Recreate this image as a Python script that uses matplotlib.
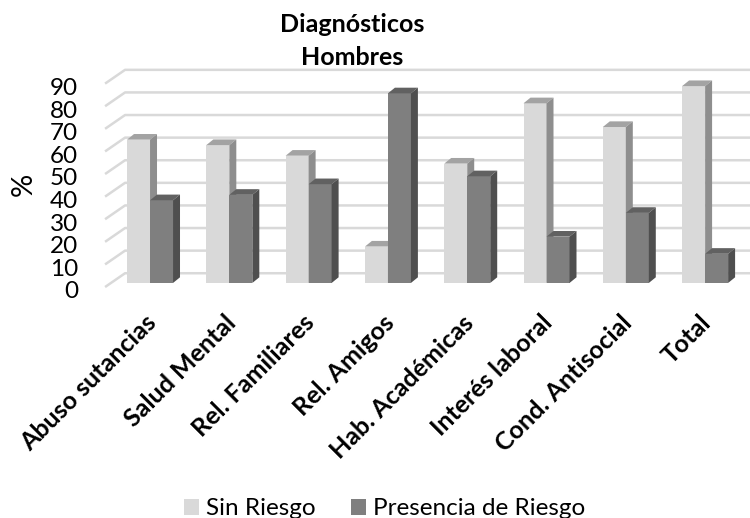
import matplotlib
matplotlib.use("Agg")
import matplotlib.pyplot as plt
from matplotlib.patches import Polygon

plt.rcParams['font.family'] = ['Lato', 'DejaVu Sans']

# ---- data -------------------------------------------------------------
categories = ["Abuso sutancias", "Salud Mental", "Rel. Familiares", "Rel. Amigos",
              "Hab. Académicas", "Interés laboral", "Cond. Antisocial", "Total"]
sin_riesgo = [63.4, 61.0, 56.3, 16.1, 52.8, 79.5, 69.0, 87.1]
presencia = [36.6, 39.0, 43.7, 83.9, 47.2, 20.5, 31.0, 12.9]
y_ticks = [0, 10, 20, 30, 40, 50, 60, 70, 80, 90]
series_names = ["Sin Riesgo", "Presencia de Riesgo"]

# face colours: front, top, side
light = ("#d9d9d9", "#a3a3a3", "#8e8e8e")
dark = ("#7f7f7f", "#616161", "#4f4f4f")

# fake 3D geometry (data units)
w = 0.29           # bar width
dx, dy = 0.088, 2.5  # bar depth offset
wall_dx, wall_dy = -0.315, 4.3   # back wall relative to bar base
floor_dx, floor_dy = -0.567, -1.8

fig = plt.figure(figsize=(7.5, 5.18), dpi=100)
ax = fig.add_axes([0, 0, 1, 1])
ax.set_xlim(-1.892, 7.566)
ax.set_ylim(-104.0, 125.2)
ax.axis('off')

# back wall gridlines with the little slanted side-wall piece
for k in y_ticks:
    ax.plot([floor_dx, wall_dx, 7.7], [k + floor_dy, k + wall_dy, k + wall_dy],
            color="#d9d9d9", lw=1.8, zorder=1, solid_capstyle='butt')
    ax.text(-0.908, k - 6.8, str(k), ha='right', va='baseline', fontsize=17.5)

def bar3d(x0, h, cols, z):
    front, top, side = cols
    b = ax.bar(x0, h, width=w, align='edge', color=front, zorder=z)
    ax.add_patch(Polygon([(x0, h), (x0 + w, h), (x0 + w + dx, h + dy), (x0 + dx, h + dy)],
                         closed=True, facecolor=top, edgecolor='none', zorder=z))
    ax.add_patch(Polygon([(x0 + w, 0), (x0 + w + dx, dy), (x0 + w + dx, h + dy), (x0 + w, h)],
                         closed=True, facecolor=side, edgecolor='none', zorder=z))
    return b

z = 2
for i, (a, b) in enumerate(zip(sin_riesgo, presencia)):
    h1 = bar3d(i - w, a, light, z)
    h2 = bar3d(i, b, dark, z + 1)
    z += 2

for i, cat in enumerate(categories):
    ax.text(i + 0.03, -16.0, cat, rotation=45, rotation_mode='anchor',
            ha='right', va='center', fontsize=18, fontweight='bold')

ax.text(-1.589, 43.4, "%", rotation=90, ha='center', va='center', fontsize=21)
ax.text(2.547, 111.1, "Diagnósticos", ha='center', va='baseline',
        fontsize=18, fontweight='bold')
ax.text(2.547, 96.5, "Hombres", ha='center', va='baseline',
        fontsize=18, fontweight='bold')

ax.legend([h1, h2], series_names, loc='lower center', bbox_to_anchor=(0.513, -0.045),
          ncol=2, frameon=False, fontsize=17.5, handlelength=0.6, handleheight=0.6,
          handletextpad=0.3, columnspacing=1.45)

fig.savefig("out.png", dpi=100)
